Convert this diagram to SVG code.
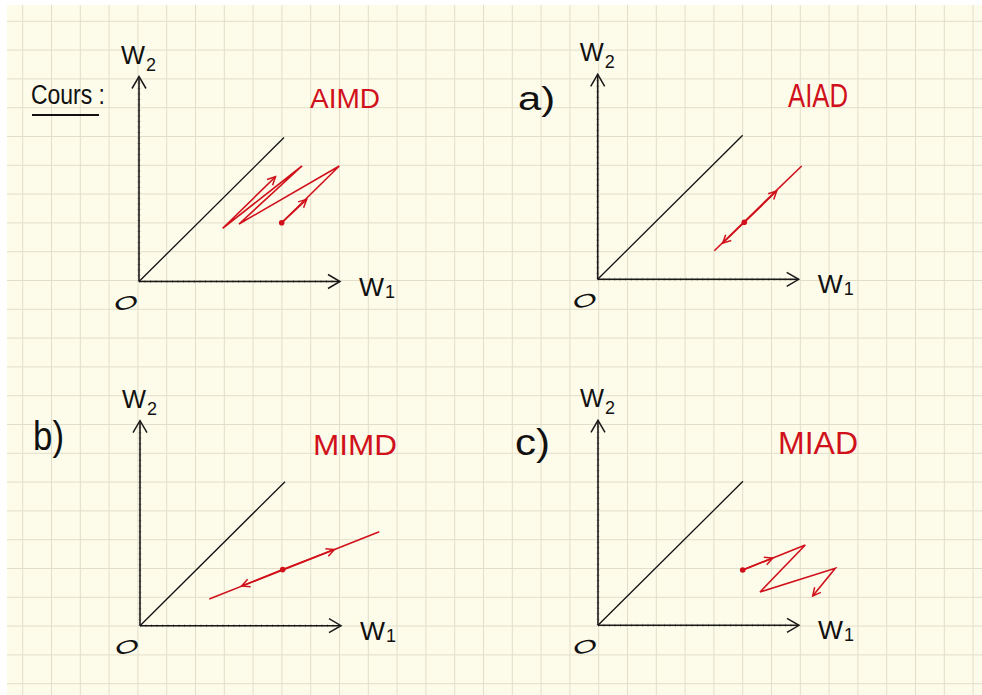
<svg xmlns="http://www.w3.org/2000/svg" width="982" height="695" viewBox="0 0 982 695">
<defs>
<style>
.hand{font-family:"Liberation Sans","DejaVu Sans",sans-serif;fill:#111}
.red{font-family:"Liberation Sans","DejaVu Sans",sans-serif;fill:#d0111b}
.ax{stroke:#1a1a1a;stroke-width:1.6;fill:none}
.tick{stroke:#111;stroke-width:3;stroke-dasharray:1 4.5;opacity:.3;fill:none}
.diag{stroke:#111;stroke-width:1.3;fill:none}
.traj{stroke:#d0111b;stroke-width:1.6;fill:none;stroke-linejoin:miter}
.arr{stroke:#d0111b;stroke-width:1.6;fill:none;marker-end:url(#rch)}
</style>
<pattern id="grid" patternUnits="userSpaceOnUse" x="8.3" y="6.9" width="28.8" height="28.8">
<path d="M14.4 0V28.8M0 14.4H28.8" stroke="#e2dec9" stroke-width="1" fill="none"/>
</pattern>
<marker id="rch" viewBox="-10 -6 12 12" refX="0" refY="0" markerWidth="12" markerHeight="12" markerUnits="userSpaceOnUse" orient="auto">
<path d="M-8,-4 L0,0 L-8,4" fill="none" stroke="#d0111b" stroke-width="1.5"/>
</marker>
<marker id="kch" viewBox="-14 -9 16 18" refX="0" refY="0" markerWidth="16" markerHeight="18" markerUnits="userSpaceOnUse" orient="auto">
<path d="M-12,-7 L0,0 L-12,7" fill="none" stroke="#1a1a1a" stroke-width="1.5"/>
</marker>
<g id="axes">
<line class="tick" x1="0" y1="0" x2="0" y2="-200"/>
<line class="tick" x1="0" y1="0" x2="196" y2="0"/>
<line class="ax" x1="0" y1="0" x2="0" y2="-205" marker-end="url(#kch)"/>
<line class="ax" x1="0" y1="0" x2="201" y2="0" marker-end="url(#kch)"/>
<line class="diag" x1="0" y1="0" x2="145" y2="-144"/>
<text class="hand" x="-18" y="-218" font-size="26" textLength="24" lengthAdjust="spacingAndGlyphs">W</text>
<text class="hand" x="7" y="-211" font-size="18">2</text>
<text class="hand" x="220" y="14" font-size="26" textLength="25" lengthAdjust="spacingAndGlyphs">W</text>
<text class="hand" x="246" y="16" font-size="18">1</text>
<text class="hand" font-size="22" text-anchor="middle" x="0" y="8" transform="translate(-13,21) rotate(-18) scale(1.45,0.8)">O</text>
</g>
</defs>
<rect x="0" y="0" width="982" height="695" fill="#ffffff"/>
<rect x="7" y="5" width="975" height="690" fill="#fdfbea"/>
<rect x="7" y="5" width="975" height="690" fill="url(#grid)"/>

<g id="title">
<text class="hand" x="31" y="104" font-size="27" textLength="74" lengthAdjust="spacingAndGlyphs">Cours :</text>
<line x1="32" y1="115" x2="99" y2="115" stroke="#111" stroke-width="1.8"/>
</g>

<g id="panel-aimd">
<use href="#axes" transform="translate(139,281.5)"/>
<text class="red" x="310" y="108" font-size="28" textLength="70" lengthAdjust="spacingAndGlyphs">AIMD</text>
</g>

<g id="panel-aiad">
<use href="#axes" transform="translate(597.7,279.3)"/>
<text class="hand" x="518" y="110" font-size="34" textLength="37" lengthAdjust="spacingAndGlyphs">a)</text>
<text class="red" x="788" y="107" font-size="33" textLength="60" lengthAdjust="spacingAndGlyphs">AIAD</text>
</g>

<g id="panel-mimd">
<use href="#axes" transform="translate(140,625.7)"/>
<text class="hand" x="33" y="450" font-size="40" textLength="31" lengthAdjust="spacingAndGlyphs">b)</text>
<text class="red" x="313" y="455" font-size="30" textLength="84" lengthAdjust="spacingAndGlyphs">MIMD</text>
</g>

<g id="panel-miad">
<use href="#axes" transform="translate(598,625.3)"/>
<text class="hand" x="515" y="455" font-size="36" textLength="35" lengthAdjust="spacingAndGlyphs">c)</text>
<text class="red" x="778" y="454" font-size="31" textLength="80" lengthAdjust="spacingAndGlyphs">MIAD</text>
</g>

<g id="connectors">
<path class="traj" d="M281.7,222.7 L339.3,166 L239,224 L302,166 L222.7,228.3 L275.5,176.7" marker-end="url(#rch)"/>
<path class="arr" d="M281.7,222.7 L306.7,199.3"/>
<circle cx="281.7" cy="222.7" r="2.8" fill="#d0111b"/>
<path class="traj" d="M714.3,250.7 L801.7,166"/>
<path class="arr" d="M744.3,222.3 L776.7,191"/>
<path class="arr" d="M744.3,222.3 L722.7,243.2"/>
<circle cx="744.3" cy="222.3" r="2.8" fill="#d0111b"/>
<path class="traj" d="M209.3,599 L379.3,531.7"/>
<path class="arr" d="M282.7,569.6 L334.3,549.5"/>
<path class="arr" d="M282.7,569.6 L241.7,586"/>
<circle cx="282.7" cy="569.6" r="2.8" fill="#d0111b"/>
<path class="traj" d="M742.7,570 L805.3,545 L760,592 L835.3,568.3 L812.7,596" marker-end="url(#rch)"/>
<path class="arr" d="M742.7,570 L772.7,558"/>
<circle cx="742.7" cy="570" r="2.8" fill="#d0111b"/>
</g>
</svg>
